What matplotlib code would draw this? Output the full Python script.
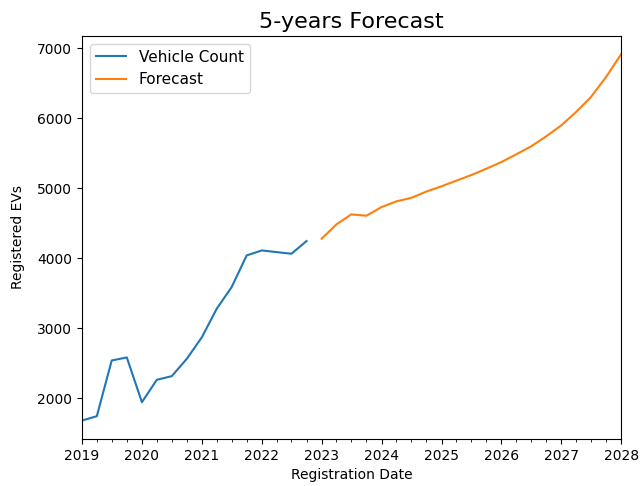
import numpy as np
import pandas as pd
import matplotlib
matplotlib.use("Agg")
import matplotlib.pyplot as plt
import matplotlib.dates as mdates

# quarterly registrations (observed) and the model forecast
observed = [1685, 1747, 2543, 2586, 1947, 2267, 2319, 2567,
            2876, 3281, 3590, 4043, 4114, 4090, 4067, 4248]
forecast = [4281, 4486, 4629, 4610, 4733, 4815, 4865, 4955,
            5030, 5110, 5190, 5281, 5376, 5486, 5600, 5743,
            5900, 6090, 6305, 6590, 6915]

obs_dates = pd.date_range("2019-01-01", periods=len(observed), freq="QS")
fc_dates = pd.date_range("2023-01-01", periods=len(forecast), freq="QS")


def main():
    fig, ax = plt.subplots(figsize=(6.41, 4.86), dpi=100)
    fig.subplots_adjust(left=0.128, right=0.969, top=0.926, bottom=0.097)

    ax.plot(obs_dates, observed, color="#1f77b4", label="Vehicle Count")
    ax.plot(fc_dates, forecast, color="#ff7f0e", label="Forecast")

    ax.set_xlim(pd.Timestamp("2019-01-01"), pd.Timestamp("2028-01-01"))
    ax.xaxis.set_major_locator(mdates.YearLocator())
    ax.xaxis.set_major_formatter(mdates.DateFormatter("%Y"))
    ax.xaxis.set_minor_locator(mdates.MonthLocator(bymonth=[4, 7, 10]))

    ax.set_xlabel("Registration Date")
    ax.set_ylabel("Registered EVs", labelpad=9)
    ax.set_title("5-years Forecast", fontsize=16)
    ax.legend(loc="upper left", fontsize=11)

    fig.savefig("out.png")


if __name__ == "__main__":
    main()
